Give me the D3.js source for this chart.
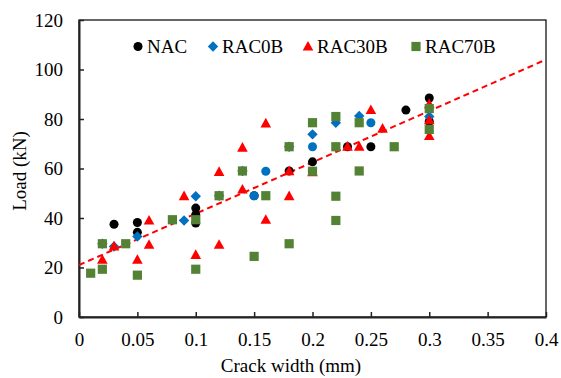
<!DOCTYPE html>
<html><head><meta charset="utf-8">
<script src="https://cdn.jsdelivr.net/npm/d3@7"></script>
<style>body{margin:0;background:#fff}svg{display:block}svg text{font-family:"Liberation Serif","Times New Roman",Times,"DejaVu Serif",serif !important}</style>
</head><body><svg id="c" width="561" height="378"></svg>
<script>
const xTicks = [0,0.05,0.1,0.15,0.2,0.25,0.3,0.35,0.4];
const xTickLabels = ["0","0.05","0.1","0.15","0.2","0.25","0.3","0.35","0.4"];
const yTicks = [0,20,40,60,80,100,120];
const yTickLabels = ["0","20","40","60","80","100","120"];
const seriesNames = ["NAC","RAC0B","RAC30B","RAC70B"];

const nacX = [0.03,0.05,0.05,0.1,0.1,0.1,0.15,0.18,0.2,0.23,0.25,0.28,0.3,0.3];
const nacY = [37.5,38.2,34.2,44,41.3,38,49,59,62.7,68.8,68.8,83.6,88.5,79];

const rac0bX = [0.02,0.03,0.05,0.09,0.1,0.12,0.14,0.18,0.2,0.22,0.24,0.3];
const rac0bY = [29.6,28.5,32.5,39,48.8,49,59,68.8,73.8,78.5,81.2,81];
// RAC0B points drawn round in the reference
const rac0bRoundX = [0.15,0.16,0.2,0.25];
const rac0bRoundY = [49,58.9,68.8,78.5];

const rac30bX = [0.02,0.03,0.05,0.06,0.06,0.09,0.1,0.12,0.12,0.14,0.14,0.16,0.16,0.18,0.18,0.2,0.23,0.24,0.25,0.26,0.3,0.3,0.3];
const rac30bY = [23.1,28.5,23.1,39,29.2,48.8,25.1,58.6,29.2,68.4,51.5,78.2,39.3,58.9,48.8,58.5,68.8,68.8,83.6,76.1,86,79.5,73.1];

const rac70bX = [0.01,0.02,0.02,0.04,0.05,0.08,0.1,0.1,0.12,0.14,0.15,0.16,0.18,0.18,0.2,0.2,0.22,0.22,0.22,0.22,0.24,0.24,0.27,0.3,0.3];
const rac70bY = [17.7,19.3,29.6,29.6,16.9,39.3,39.3,19.3,49,59,24.5,49,68.8,29.6,78.5,58.9,81,68.8,48.8,39,78.5,59,68.8,84.2,75.8];

const trendX = [0,0.4];
const trendY = [21,104];

const FONT='"Liberation Serif","Times New Roman",Times,"DejaVu Serif",serif';
const W=561,H=378, m={l:79,r:15,t:20,b:61};
const svg=d3.select("#c").attr("font-family",FONT);
const x=d3.scaleLinear().domain([0,0.4]).range([m.l,W-m.r]);
const y=d3.scaleLinear().domain([0,120]).range([H-m.b,m.t]);

svg.append("rect").attr("x",m.l).attr("y",m.t).attr("width",W-m.r-m.l).attr("height",H-m.b-m.t)
  .attr("fill","none").attr("stroke","#000").attr("stroke-width",1.2);

const gx=svg.append("g").attr("transform",`translate(0,${H-m.b})`)
  .call(d3.axisBottom(x).tickValues(xTicks).tickFormat((d,i)=>xTickLabels[i]).tickSizeInner(-5).tickSizeOuter(0).tickPadding(16));
const gy=svg.append("g").attr("transform",`translate(${m.l},0)`)
  .call(d3.axisLeft(y).tickValues(yTicks).tickFormat((d,i)=>yTickLabels[i]).tickSizeInner(-5).tickSizeOuter(0).tickPadding(16));
[gx,gy].forEach(g=>{
  g.attr("font-family",FONT).attr("font-size",19);
  g.select(".domain").attr("stroke","#222").attr("stroke-width",2);
  g.selectAll(".tick line").attr("stroke","#222").attr("stroke-width",1.5);
  g.selectAll("text").attr("fill","#000");
});

svg.append("text").attr("x",291).attr("y",372).attr("text-anchor","middle").attr("font-size",19).text("Crack width (mm)");
svg.append("text").attr("transform","translate(26,171) rotate(-90)").attr("text-anchor","middle").attr("font-size",19).text("Load (kN)");

svg.append("line").attr("x1",x(trendX[0])).attr("y1",y(trendY[0])).attr("x2",x(trendX[1])).attr("y2",y(trendY[1]))
  .attr("stroke","#ff0000").attr("stroke-width",2).attr("stroke-dasharray","6,4");

const shapes={
  circle:()=>d3.symbol(d3.symbolCircle,64)(),
  diamond:()=>"M0,-5.2L5.2,0L0,5.2L-5.2,0Z",
  triangle:()=>"M0,-5.6L5.3,4L-5.3,4Z",
  square:()=>"M-4.6,-4.6H4.6V4.6H-4.6Z"
};
const colors=["#000000","#0070C0","#FF0000","#548235"];
function drawPts(xs,ys,shape,color){
  svg.append("g").selectAll("path").data(xs.map((d,i)=>[d,ys[i]])).join("path")
    .attr("d",shapes[shape]()).attr("fill",color)
    .attr("transform",d=>`translate(${x(d[0])},${y(d[1])})`);
}
drawPts(nacX,nacY,"circle",colors[0]);
drawPts(rac0bX,rac0bY,"diamond",colors[1]);
drawPts(rac0bRoundX,rac0bRoundY,"circle",colors[1]);
drawPts(rac30bX,rac30bY,"triangle",colors[2]);
drawPts(rac70bX,rac70bY,"square",colors[3]);

const leg=[{s:"circle",x:138},{s:"diamond",x:213},{s:"triangle",x:308},{s:"square",x:416}];
leg.forEach((l,i)=>{
  svg.append("path").attr("d",shapes[l.s]()).attr("fill",colors[i]).attr("transform",`translate(${l.x},46.5)`);
  svg.append("text").attr("x",l.x+9).attr("y",53).attr("font-size",19).text(seriesNames[i]);
});
</script></body></html>
